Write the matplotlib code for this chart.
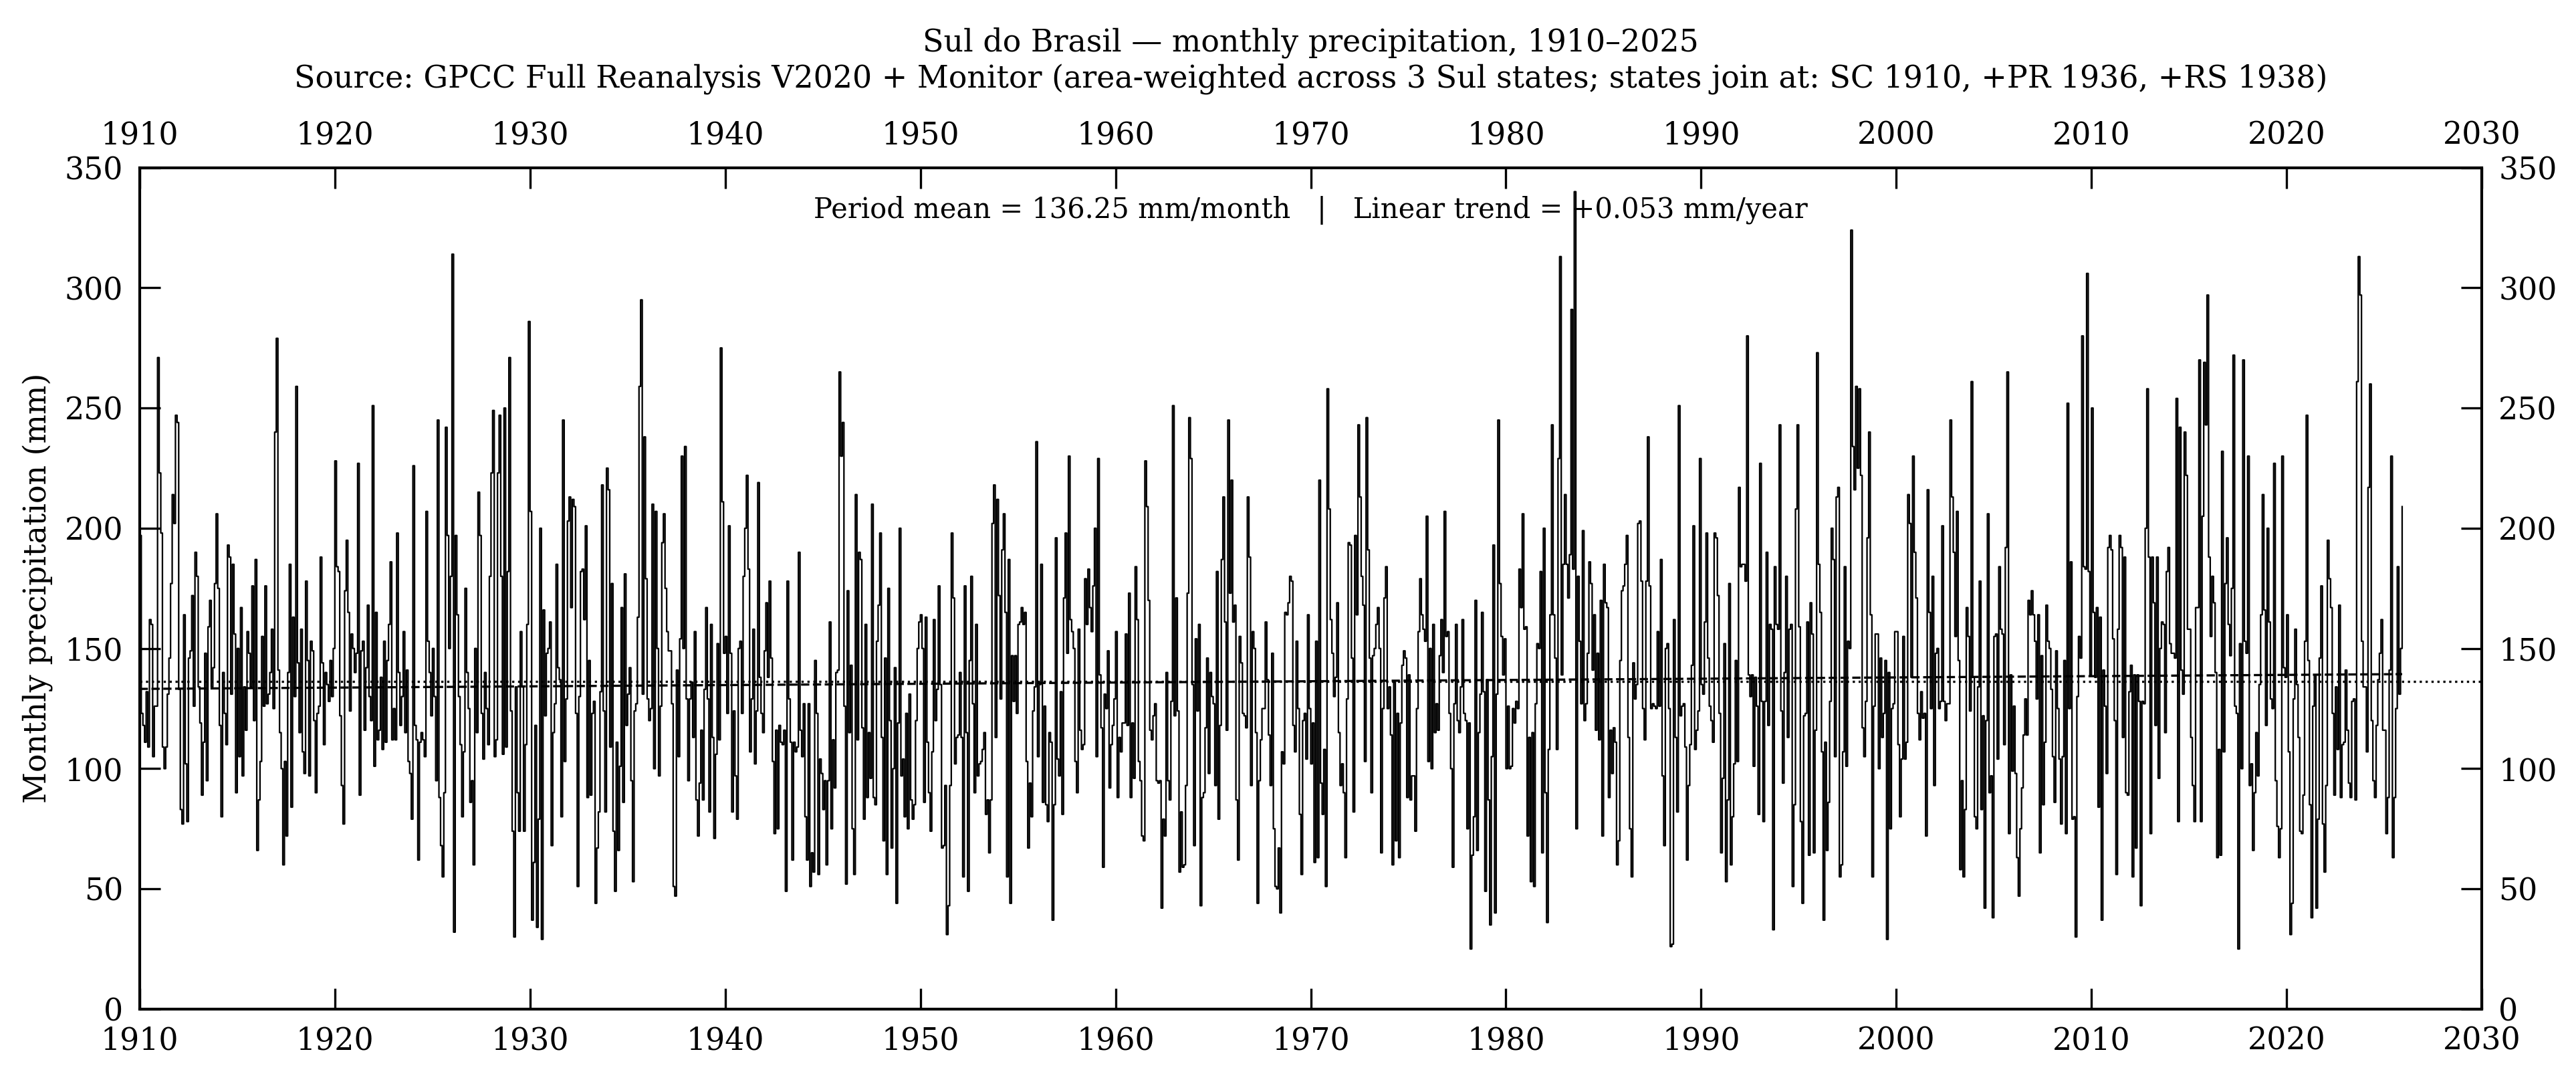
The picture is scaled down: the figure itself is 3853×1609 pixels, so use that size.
import matplotlib
matplotlib.use("Agg")
import matplotlib.pyplot as plt
import numpy as np

plt.rcParams['font.family'] = ['DejaVu Serif']

# monthly precipitation (mm), area-weighted Sul do Brasil, one list per decade (Jan..Dec per year)
p1910s = [
    197, 123, 118, 111, 132, 109, 162, 160, 105, 126, 126, 271,
    223, 198, 109, 100, 109, 131, 146, 177, 214, 202, 247, 244,
    133, 83, 77, 164, 102, 78, 146, 149, 172, 126, 190, 180,
    134, 119, 89, 111, 148, 95, 159, 170, 134, 142, 177, 206,
    175, 118, 80, 140, 123, 110, 193, 188, 131, 185, 156, 90,
    150, 105, 167, 97, 134, 116, 157, 148, 134, 176, 120, 187,
    66, 87, 103, 155, 126, 176, 127, 131, 140, 158, 125, 240,
    279, 141, 115, 100, 60, 103, 72, 140, 185, 84, 163, 130,
    259, 144, 115, 158, 107, 98, 178, 145, 97, 153, 149, 120,
    90, 123, 126, 188, 144, 110, 140, 135, 128, 145, 130, 150,
]
p1920s = [
    228, 184, 182, 122, 93, 77, 174, 195, 165, 124, 156, 150,
    140, 148, 227, 89, 149, 153, 116, 142, 168, 130, 120, 251,
    101, 165, 112, 116, 138, 108, 153, 111, 145, 160, 186, 112,
    125, 112, 198, 140, 118, 130, 157, 115, 141, 103, 98, 79,
    226, 118, 112, 62, 111, 115, 112, 105, 207, 153, 140, 122,
    150, 130, 95, 245, 88, 68, 55, 90, 242, 197, 150, 180,
    314, 32, 197, 164, 130, 110, 80, 107, 175, 140, 125, 86,
    95, 60, 150, 115, 215, 197, 123, 104, 140, 125, 110, 180,
    223, 249, 105, 112, 223, 247, 180, 106, 250, 109, 182, 271,
    124, 74, 30, 134, 90, 74, 157, 134, 74, 110, 160, 286,
]
p1930s = [
    207, 37, 61, 118, 34, 79, 200, 29, 166, 122, 148, 150,
    161, 68, 115, 127, 185, 142, 137, 80, 245, 103, 129, 203,
    213, 167, 212, 209, 123, 51, 130, 182, 183, 162, 201, 88,
    145, 89, 123, 128, 44, 67, 82, 132, 218, 124, 82, 225,
    216, 109, 177, 74, 49, 111, 66, 101, 167, 86, 181, 118,
    131, 142, 95, 53, 124, 127, 163, 259, 295, 131, 238, 179,
    129, 120, 125, 210, 100, 207, 150, 97, 126, 194, 206, 175,
    157, 149, 149, 127, 51, 47, 141, 105, 154, 230, 150, 234,
    129, 95, 129, 136, 113, 157, 87, 72, 94, 116, 87, 133,
    167, 129, 82, 160, 113, 71, 106, 152, 112, 275, 211, 148,
]
p1940s = [
    155, 123, 201, 148, 82, 124, 97, 79, 150, 153, 123, 180,
    200, 222, 183, 107, 129, 158, 102, 124, 219, 138, 123, 115,
    149, 169, 138, 178, 146, 103, 73, 116, 75, 118, 111, 110,
    116, 49, 178, 129, 111, 62, 111, 107, 109, 190, 116, 105,
    127, 80, 62, 127, 51, 65, 57, 145, 123, 56, 104, 98,
    83, 95, 60, 95, 161, 75, 112, 92, 140, 141, 265, 230,
    244, 126, 52, 174, 115, 143, 75, 56, 214, 112, 190, 187,
    117, 79, 160, 88, 115, 96, 210, 88, 85, 153, 168, 198,
    113, 70, 146, 56, 175, 120, 67, 100, 142, 44, 119, 200,
    97, 104, 80, 123, 75, 131, 87, 79, 85, 120, 150, 161,
]
p1950s = [
    164, 150, 86, 163, 111, 90, 74, 107, 162, 120, 133, 176,
    135, 67, 68, 93, 31, 43, 93, 198, 171, 102, 113, 114,
    140, 113, 55, 176, 115, 49, 145, 180, 127, 90, 160, 97,
    102, 103, 108, 115, 81, 87, 65, 87, 202, 218, 113, 212,
    172, 129, 191, 206, 165, 55, 187, 44, 147, 128, 147, 123,
    160, 161, 167, 160, 165, 103, 67, 94, 80, 124, 134, 236,
    105, 135, 185, 86, 126, 85, 78, 115, 111, 37, 85, 196,
    104, 97, 132, 81, 171, 198, 148, 230, 162, 157, 150, 103,
    90, 158, 116, 108, 110, 179, 160, 183, 167, 157, 176, 200,
    105, 229, 139, 117, 59, 131, 125, 149, 92, 110, 118, 129,
]
p1960s = [
    157, 88, 113, 107, 119, 119, 156, 118, 173, 88, 119, 96,
    184, 162, 103, 95, 72, 70, 228, 209, 170, 116, 112, 122,
    127, 95, 94, 95, 42, 79, 72, 140, 95, 87, 128, 251,
    122, 171, 124, 57, 82, 59, 60, 93, 173, 246, 229, 135,
    68, 154, 124, 160, 43, 88, 90, 117, 146, 98, 140, 130,
    127, 93, 182, 79, 118, 187, 213, 161, 116, 245, 173, 220,
    161, 168, 87, 62, 155, 144, 123, 122, 117, 213, 188, 93,
    157, 150, 115, 44, 95, 112, 125, 125, 161, 137, 114, 93,
    148, 75, 51, 50, 67, 40, 107, 102, 165, 164, 169, 180,
    178, 118, 107, 153, 125, 81, 56, 120, 123, 104, 164, 125,
]
p1970s = [
    102, 119, 61, 153, 63, 220, 94, 81, 108, 51, 258, 208,
    162, 148, 130, 138, 169, 115, 93, 102, 90, 63, 129, 194,
    193, 146, 82, 197, 164, 243, 213, 180, 168, 103, 246, 191,
    146, 90, 147, 150, 160, 167, 150, 65, 125, 171, 184, 125,
    134, 114, 60, 136, 70, 123, 63, 119, 143, 149, 146, 88,
    139, 87, 97, 97, 74, 125, 157, 179, 164, 158, 153, 205,
    103, 150, 100, 160, 115, 127, 116, 147, 162, 140, 207, 155,
    157, 123, 100, 59, 127, 160, 120, 115, 134, 162, 123, 120,
    75, 119, 25, 64, 80, 170, 66, 115, 131, 165, 132, 49,
    137, 87, 35, 105, 193, 40, 131, 245, 177, 155, 139, 154,
]
p1980s = [
    100, 126, 100, 101, 125, 119, 128, 125, 183, 167, 206, 158,
    159, 72, 113, 53, 115, 51, 127, 152, 150, 182, 65, 200,
    90, 36, 108, 164, 243, 164, 146, 108, 229, 313, 139, 185,
    214, 185, 171, 189, 291, 183, 340, 75, 180, 153, 127, 199,
    120, 127, 148, 186, 177, 141, 164, 116, 148, 112, 170, 72,
    185, 169, 167, 88, 116, 98, 117, 111, 60, 70, 145, 174,
    176, 185, 197, 113, 75, 55, 144, 129, 135, 202, 203, 178,
    125, 112, 178, 238, 176, 125, 127, 126, 125, 157, 126, 187,
    97, 68, 150, 152, 125, 26, 27, 162, 113, 82, 251, 122,
    126, 127, 109, 62, 93, 110, 143, 201, 108, 116, 124, 229,
]
p1990s = [
    135, 131, 161, 198, 146, 126, 120, 111, 198, 196, 172, 123,
    65, 96, 152, 53, 87, 177, 60, 80, 102, 145, 103, 217,
    184, 185, 185, 178, 280, 139, 130, 139, 101, 138, 126, 81,
    227, 128, 78, 128, 190, 118, 160, 158, 33, 184, 160, 158,
    243, 124, 94, 140, 180, 113, 158, 160, 51, 85, 208, 243,
    159, 78, 44, 122, 123, 161, 64, 169, 156, 65, 116, 273,
    185, 165, 107, 37, 111, 66, 86, 128, 200, 187, 105, 213,
    217, 55, 60, 107, 184, 101, 153, 150, 324, 234, 216, 259,
    225, 258, 222, 117, 105, 128, 196, 240, 164, 55, 126, 156,
    156, 100, 146, 113, 123, 145, 29, 140, 75, 125, 127, 157,
]
p2000s = [
    157, 110, 80, 104, 155, 104, 111, 214, 202, 138, 230, 190,
    171, 123, 112, 132, 121, 123, 72, 216, 165, 125, 180, 93,
    148, 150, 125, 128, 201, 128, 120, 127, 127, 245, 213, 190,
    155, 207, 145, 58, 95, 55, 83, 167, 155, 124, 261, 138,
    80, 75, 134, 178, 83, 122, 42, 120, 206, 90, 97, 38,
    155, 156, 104, 184, 158, 156, 110, 192, 265, 73, 139, 99,
    126, 98, 63, 47, 75, 92, 114, 129, 114, 170, 164, 174,
    164, 153, 129, 164, 65, 147, 85, 111, 168, 153, 150, 133,
    105, 86, 149, 125, 104, 77, 105, 145, 73, 252, 125, 186,
    79, 80, 30, 130, 155, 146, 280, 184, 183, 306, 182, 139,
]
p2010s = [
    250, 165, 138, 167, 84, 163, 37, 141, 126, 98, 192, 197,
    191, 154, 120, 56, 158, 197, 192, 113, 188, 90, 89, 132,
    143, 55, 139, 67, 139, 128, 43, 128, 127, 200, 258, 188,
    73, 188, 169, 118, 188, 96, 150, 161, 160, 115, 182, 192,
    152, 148, 148, 146, 254, 78, 242, 141, 131, 240, 222, 158,
    158, 113, 93, 78, 167, 167, 270, 78, 205, 269, 243, 297,
    188, 155, 180, 169, 140, 63, 108, 64, 232, 107, 177, 196,
    160, 147, 175, 272, 126, 123, 25, 152, 100, 270, 153, 148,
    230, 93, 102, 66, 90, 115, 97, 135, 164, 214, 166, 118,
    200, 161, 129, 125, 227, 95, 76, 63, 75, 230, 142, 138,
]
p2020s = [
    164, 107, 31, 44, 129, 158, 135, 113, 74, 73, 89, 153,
    247, 145, 85, 38, 126, 139, 42, 79, 146, 176, 77, 57,
    93, 195, 179, 167, 123, 89, 134, 108, 168, 88, 110, 111,
    141, 116, 94, 88, 128, 129, 87, 261, 313, 297, 153, 134,
    134, 107, 217, 260, 120, 95, 88, 118, 137, 148, 162, 116,
    116, 73, 88, 141, 230, 63, 88, 125, 184, 131, 150, 209,
]

# reported statistics (shown in the annotation)
period_mean = 136.25   # mm/month
trend_slope = 0.053    # mm/year

start_year = 1910
year_ticks = list(range(1910, 2031, 10))
precip_ticks = [0, 50, 100, 150, 200, 250, 300, 350]

precip = np.array(p1910s + p1920s + p1930s + p1940s + p1950s + p1960s
                  + p1970s + p1980s + p1990s + p2000s + p2010s + p2020s, dtype=float)
t = start_year + np.arange(len(precip)) / 12.0

fig = plt.figure(figsize=(3854 / 300, 1609 / 300), dpi=300)
ax = fig.add_axes([0.0542, 0.0622, 0.9090, 0.7820])

ax.step(t, precip, where='post', color='k', lw=0.55)
ax.axhline(period_mean, color='k', lw=0.8, linestyle=':')
trend = period_mean + trend_slope * (t - t.mean())
ax.plot([t[0], t[-1]], [trend[0], trend[-1]], color='k', lw=0.8, linestyle='--')

ax.set_xlim(1910, 2030)
ax.set_ylim(0, 350)
ax.set_xticks(year_ticks)
ax.set_yticks(precip_ticks)
ax.tick_params(axis='both', which='both', direction='in', top=True, right=True,
               labeltop=True, labelright=True, length=7.5, width=0.8,
               labelsize=11, pad=6)
for s in ax.spines.values():
    s.set_linewidth(1.0)

ax.set_ylabel('Monthly precipitation (mm)', fontsize=11)
ax.set_title('Sul do Brasil \u2014 monthly precipitation, 1910\u20132025\n'
             'Source: GPCC Full Reanalysis V2020 + Monitor (area-weighted across 3 Sul states; '
             'states join at: SC 1910, +PR 1936, +RS 1938)', fontsize=11, pad=12)

ax.text(0.5, 0.949,
        f'Period mean = {period_mean:.2f} mm/month   |   Linear trend = {trend_slope:+.3f} mm/year',
        transform=ax.transAxes, ha='center', va='center', fontsize=10)

fig.savefig('out.png', dpi=300)
